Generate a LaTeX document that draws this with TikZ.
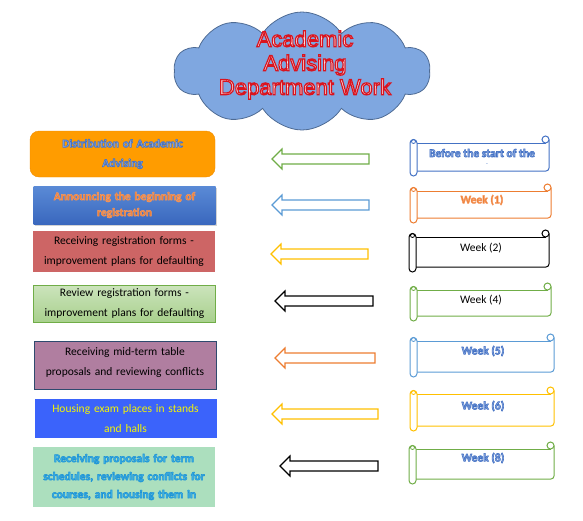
\documentclass[tikz,border=0pt]{standalone}
\usepackage{fontspec}
\setmainfont{Carlito}
\newfontfamily\titlefont{Liberation Sans}
\usetikzlibrary{shapes.symbols,shadows}
\definecolor{cloudfill}{HTML}{7FA7E0}
\definecolor{cloudline}{HTML}{4E6B94}
\definecolor{bOne}{HTML}{FF9C00}
\definecolor{bOneLine}{HTML}{F08C00}
\definecolor{bTwoTop}{HTML}{5A8AD6}
\definecolor{bTwoBot}{HTML}{3A68BE}
\definecolor{bThree}{HTML}{CD6565}
\definecolor{bFourTop}{HTML}{CCE4BC}
\definecolor{bFourBot}{HTML}{A8D08D}
\definecolor{bFive}{HTML}{B07EA0}
\definecolor{bFiveLine}{HTML}{2E4A6E}
\definecolor{bSix}{HTML}{3B63FB}
\definecolor{bSeven}{HTML}{ACDFBE}
\definecolor{oBlue}{HTML}{4472C4}
\definecolor{lBlue}{HTML}{93AEE2}
\definecolor{oOrange}{HTML}{ED7D31}
\definecolor{oLBlue}{HTML}{5B9BD5}
\definecolor{oGreen}{HTML}{70AD47}
\definecolor{oGold}{HTML}{FFC000}
\definecolor{lCyan}{HTML}{3CB2E6}
\definecolor{oYellow}{HTML}{F5F500}
% outlined text: #1 stroke rgb, #2 stroke width, #3 text
\newcommand\strk[3]{\special{pdf:literal direct #1 RG #2 w 2 Tr}#3\special{pdf:literal direct 0 Tr}}
\newcommand\bluetxt[1]{\textcolor{lBlue}{\strk{0.267 0.447 0.769}{0.6}{\textbf{#1}}}}
\newcommand\scrollbox[5]{%
  \pgfmathsetmacro\sA{#4+7}%
  \pgfmathsetmacro\sB{#5-5}%
  \draw[#1,line width=1pt] (#2+7,\sA) -- (#3-3.5,\sA);
  \draw[#1,line width=1pt] (#3-3.5,#4+3.5) circle[radius=3.5pt];
  \draw[#1,line width=1pt,rounded corners=3pt] (#3,#4+3.5) -- (#3,\sB) -- (#2+7,\sB);
  \draw[#1,line width=1pt,fill=white,rounded corners=3.5pt] (#2,\sA-3.5) rectangle (#2+7,#5);
  \draw[#1,line width=0.8pt] (#2+3.5,\sA-1.5) circle[radius=2pt];
}
\begin{document}
\begin{tikzpicture}[x=1pt,y=-1pt,
  box/.style={rectangle,inner sep=2pt,align=center,text width=178pt,
    font=\fontsize{11.5}{19.5}\selectfont},
  wk/.style={inner sep=0pt,font=\fontsize{11.5}{14}\selectfont},
  blockarrow/.style={line width=1.1pt,fill=white}]
\useasboundingbox (0,0) rectangle (583,520);
% cloud
\node[cloud,cloud puffs=10,cloud puff arc=115,aspect=2.5,minimum width=256pt,minimum height=118pt,
  draw=cloudline,fill=cloudfill,line width=0.8pt] (cloud) at (302,71) {};
\node[align=center,font=\titlefont\fontsize{22}{24}\selectfont,text=white] (title) at (305,65)
  {\strk{0.85 0.08 0.12}{1.2}{Academic}\\\strk{0.85 0.08 0.12}{1.2}{Advising}\\\strk{0.85 0.08 0.12}{1.2}{Department Work}};
% left boxes
\node[box,fill=bOne,draw=bOneLine,rounded corners=9pt,minimum width=185pt,minimum height=46pt] (b1) at (122.5,154)
  {\bluetxt{Distribution of Academic}\\\bluetxt{Advising}};
\node[box,top color=bTwoTop,bottom color=bTwoBot,minimum width=181pt,minimum height=38pt,text=oOrange,
  drop shadow={shadow xshift=1pt,shadow yshift=-1.5pt,opacity=0.35},font=\fontsize{11.5}{16}\selectfont] (b2) at (124.5,205)
  {\strk{0.96 0.60 0.38}{0.5}{\textbf{Announcing the beginning of}}\\\strk{0.96 0.60 0.38}{0.5}{\textbf{registration}}};
\node[box,fill=bThree,minimum width=182pt,minimum height=41pt] (b3) at (124,251.5)
  {Receiving registration forms -\\improvement plans for defaulting};
\node[box,top color=bFourTop,bottom color=bFourBot,draw=oGreen,line width=0.8pt,minimum width=179pt,minimum height=37pt] (b4) at (124.5,303.5)
  {Review registration forms -\\improvement plans for defaulting};
\node[box,fill=bFive,draw=bFiveLine,line width=0.8pt,minimum width=180pt,minimum height=48pt] (b5) at (125,365) {};
\node[box] (b5t) at (125,362.5) {Receiving mid-term table\\proposals and reviewing conflicts};
\node[box,fill=bSix,text=oYellow,minimum width=181pt,minimum height=39pt] (b6) at (125.5,418.5)
  {Housing exam places in stands\\and halls};
\node[box,fill=bSeven,text=lCyan,minimum width=180pt,minimum height=60pt,font=\fontsize{11.5}{18}\selectfont] (b7) at (124,477)
  {\strk{0.12 0.58 0.84}{0.55}{\textbf{Receiving proposals for term}}\\\strk{0.12 0.58 0.84}{0.55}{\textbf{schedules, reviewing conflicts for}}\\\strk{0.12 0.58 0.84}{0.55}{\textbf{courses, and housing them in}}};
% block arrows
\foreach \yy/\xt/\xe/\col in {159/272/369/oGreen,205/272/369/oLBlue,254/271/368/oGold,301/275/373/black,358/275/375/oOrange,414/272/378/oGold,466/280/378/black}{
  \draw[blockarrow,draw=\col] (\xt,\yy) -- (\xt+10,\yy-10) -- (\xt+10,\yy-5) -- (\xe,\yy-5) -- (\xe,\yy+5) -- (\xt+10,\yy+5) -- (\xt+10,\yy+10) -- cycle;
}
% scrolls
\scrollbox{oBlue}{410}{549}{136}{176}
\scrollbox{oOrange}{410}{551}{184}{223}
\scrollbox{black}{409}{549}{230}{272}
\scrollbox{oGreen}{410}{551}{283}{321}
\scrollbox{oLBlue}{410}{554}{334}{377}
\scrollbox{oGold}{410}{554}{387}{431}
\scrollbox{oGreen}{409}{554}{442}{484}
\node[wk] (w0) at (482,153) {\bluetxt{Before the start of the}};
\node[wk,font=\fontsize{6}{6}\selectfont,text=oBlue] (w0b) at (487,165) {-};
\node[wk,text=oOrange] (w1) at (482,200) {\strk{0.96 0.60 0.38}{0.5}{\textbf{Week (1)}}};
\node[wk] (w2) at (481,248) {Week (2)};
\node[wk] (w4) at (481,300) {Week (4)};
\node[wk] (w5) at (483,351) {\bluetxt{Week (5)}};
\node[wk] (w6) at (483,406) {\bluetxt{Week (6)}};
\node[wk] (w8) at (483,458) {\bluetxt{Week (8)}};
\end{tikzpicture}
\end{document}
